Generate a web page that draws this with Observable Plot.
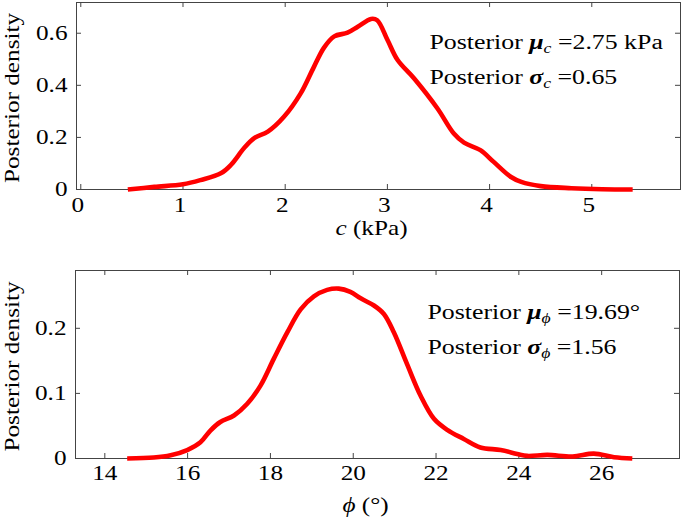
<!DOCTYPE html>
<html><head><meta charset="utf-8">
<script src="https://cdn.jsdelivr.net/npm/d3@7"></script>
<script src="https://cdn.jsdelivr.net/npm/@observablehq/plot@0.6"></script>
<style>
body{margin:0;background:#fff;}
#chart svg{display:block;}
</style></head><body><div id="chart"></div>
<script>
// ---- data ----
const cValues  = [0.46,0.72,1.00,1.17,1.37,1.47,1.60,1.70,1.83,1.99,2.15,2.28,2.38,2.48,2.61,2.71,2.84,2.90,3.00,3.10,3.26,3.49,3.65,3.75,3.91,4.04,4.21,4.31,4.50,4.80,5.10,5.40];
const cDensity = [0,0.010,0.020,0.036,0.062,0.095,0.160,0.198,0.222,0.280,0.368,0.470,0.545,0.588,0.602,0.625,0.655,0.650,0.575,0.497,0.427,0.311,0.215,0.180,0.151,0.106,0.048,0.029,0.013,0.005,0.001,0];
const phiValues  = [14.54,15.18,15.59,15.99,16.31,16.55,16.79,17.12,17.44,17.76,18.08,18.41,18.73,19.05,19.37,19.65,19.93,20.18,20.50,20.74,20.98,21.30,21.63,21.95,22.27,22.67,23.07,23.56,23.96,24.20,24.69,25.30,25.81,26.30,26.74];
const phiDensity = [0,0.0015,0.005,0.013,0.025,0.043,0.056,0.066,0.084,0.112,0.153,0.194,0.229,0.249,0.259,0.261,0.256,0.246,0.235,0.222,0.194,0.145,0.096,0.061,0.044,0.030,0.017,0.013,0.007,0.004,0.0055,0.003,0.0075,0.002,0];
const cTicks = [0,1,2,3,4,5];
const cDensityTicks = [0,0.2,0.4,0.6];
const phiTicks = [14,16,18,20,22,24,26];
const phiDensityTicks = [0,0.1,0.2];
const yLabel = "Posterior density";
const cLabel = "*c* (kPa)";
const phiLabel = "*ϕ* (°)";
const cStats = ["Posterior **μ**_c =2.75 kPa", "Posterior **σ**_c =0.65"];
const phiStats = ["Posterior **μ**_ϕ =19.69°", "Posterior **σ**_ϕ =1.56"];

const FONT = "'Liberation Serif','Times New Roman',serif";
const AX = "#444";

function panel({xs, ys, xTicks, yTicks, xDomain, yDomain, height, mL, mR, mT, mB, xLab, labDx, labDy, tickDx, stats, statDx, statDy, xPad}) {
  const W = 685;
  const pw = W - mL - mR, ph = height - mT - mB;
  const pts = xs.map((x, i) => ({x, y: ys[i]}));
  const fmt = d => String(d);
  return Plot.plot({
    width: W, height,
    marginLeft: mL, marginRight: mR, marginTop: mT, marginBottom: mB,
    x: {domain: xDomain},
    y: {domain: yDomain},
    style: {background: "white", color: "black", fontFamily: FONT, fontSize: "21px"},
    marks: [
      Plot.frame({stroke: AX, strokeWidth: 1}),
      Plot.tickX(xTicks, {x: d => d, insetTop: ph - 5, stroke: AX}),
      Plot.tickX(xTicks, {x: d => d, insetBottom: ph - 5, stroke: AX}),
      Plot.tickY(yTicks, {y: d => d, insetRight: pw - 5, stroke: AX}),
      Plot.tickY(yTicks, {y: d => d, insetLeft: pw - 5, stroke: AX}),
      Plot.axisX(xTicks, {tickSize: 0, tickPadding: xPad, label: null, dx: tickDx, fontSize: 21, tickFormat: fmt}),
      Plot.axisY(yTicks, {tickSize: 0, tickPadding: 9, label: null, fontSize: 21, tickFormat: fmt}),
      Plot.line(pts, {x: "x", y: "y", stroke: "#ff0000", strokeWidth: 4.6, curve: "catmull-rom", strokeLinecap: "butt"}),
      Plot.text([yLabel], {text: d => d, frameAnchor: "left", textAnchor: "middle", lineAnchor: "middle", rotate: -90, dx: -(mL - 11.5), dy: 2, fontSize: 21}),
      Plot.text([xLab], {text: d => d, frameAnchor: "bottom", textAnchor: "middle", lineAnchor: "middle", dx: labDx, dy: labDy, fontSize: 21}),
      Plot.text([stats[0]], {text: d => d, frameAnchor: "top-left", textAnchor: "start", lineAnchor: "middle", dx: statDx, dy: statDy, fontSize: 20.5}),
      Plot.text([stats[1]], {text: d => d, frameAnchor: "top-left", textAnchor: "start", lineAnchor: "middle", dx: statDx, dy: statDy + 35, fontSize: 20.5})
    ]
  });
}

const topPanel = panel({
  xs: cValues, ys: cDensity, xTicks: cTicks, yTicks: cDensityTicks,
  xDomain: [-0.042, 5.868], yDomain: [0, 0.718], height: 250,
  mL: 76, mR: 5, mT: 2, mB: 61, xLab: cLabel, labDx: -7, labDy: 39, tickDx: -3, xPad: 8,
  stats: cStats, statDx: 353, statDy: 40
});
const bottomPanel = panel({
  xs: phiValues, ys: phiDensity, xTicks: phiTicks, yTicks: phiDensityTicks,
  xDomain: [13.292, 27.88], yDomain: [0, 0.2888], height: 269,
  mL: 75, mR: 6, mT: 20, mB: 61, xLab: phiLabel, labDx: -12, labDy: 47, tickDx: 0, xPad: 7,
  stats: phiStats, statDx: 352, statDy: 42
});

const host = document.getElementById("chart");
host.append(topPanel, bottomPanel);

function richify(svg) {
  d3.select(svg).selectAll("text").each(function() {
    const t = this.textContent;
    if (!/[*_]/.test(t)) return;
    if (t.includes("**")) this.setAttribute("data-note", "1");
    const parts = t.split(/(\*\*[^*]+\*\*|\*[^*]+\*|_\S)/).filter(s => s);
    const sel = d3.select(this);
    sel.text(null);
    let shifted = false;
    for (const p of parts) {
      const ts = sel.append("tspan");
      if (p.startsWith("**")) ts.text(p.slice(2, -2)).attr("font-weight", "bold").attr("font-style", "italic");
      else if (p.startsWith("*")) ts.text(p.slice(1, -1)).attr("font-style", "italic");
      else if (p.startsWith("_")) { ts.text(p.slice(1)).attr("font-style", "italic").attr("font-size", "14px").attr("dy", 4); shifted = true; continue; }
      else ts.text(p);
      if (shifted) { ts.attr("dy", -4); shifted = false; }
    }
  });
}
function stretch(svg, k, kNote) {
  svg.querySelectorAll("text").forEach(t => {
    const L = t.getComputedTextLength();
    const f = t.getAttribute("data-note") ? kNote : k;
    if (L > 0) { t.setAttribute("textLength", (L * f).toFixed(2)); t.setAttribute("lengthAdjust", "spacingAndGlyphs"); }
  });
}
[topPanel, bottomPanel].forEach(s => { richify(s); stretch(s, 1.2, 1.26); });
</script></body></html>
